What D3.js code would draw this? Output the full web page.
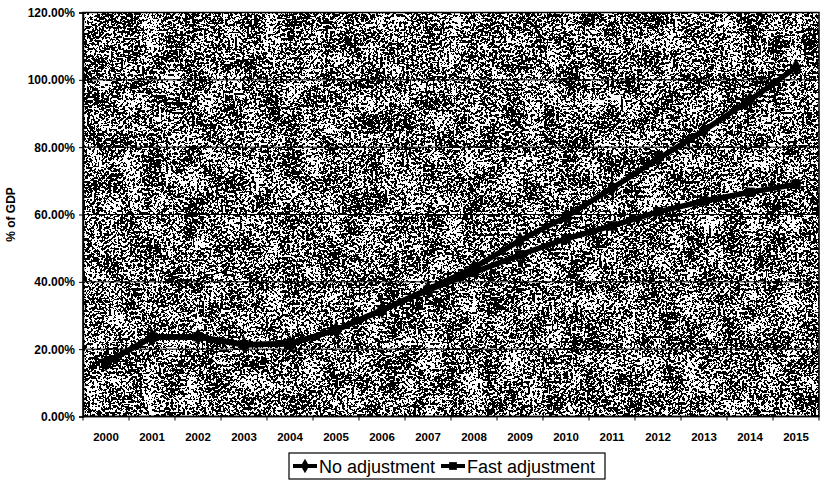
<!DOCTYPE html>
<html>
<head>
<meta charset="utf-8">
<script src="https://cdn.jsdelivr.net/npm/d3@7"></script>
<style>
    body { margin: 0; background: #fff; }
    svg text { font-family: "Liberation Sans", Arial, sans-serif; fill: #000; }
</style>
</head>
<body>
<svg id="chart" width="824" height="480"></svg>
<script>
// Chart data
const years = ['2000', '2001', '2002', '2003', '2004', '2005', '2006', '2007',
    '2008', '2009', '2010', '2011', '2012', '2013', '2014', '2015'];
const noAdjustment = [15.9, 23.6, 23.7, 21.3, 21.6, 25.7, 31.6, 37.8,
    44.2, 52.3, 59.3, 67.8, 76.5, 85.0, 94.0, 103.7];
const fastAdjustment = [15.9, 23.6, 23.7, 21.3, 21.6, 25.7, 31.6, 37.5,
    42.8, 48.0, 52.8, 56.6, 60.8, 64.0, 66.6, 69.0];
const yTicks = [0, 20, 40, 60, 80, 100, 120];
const seriesNames = ['No adjustment', 'Fast adjustment'];

const svg = d3.select('#chart');
const margin = { top: 12.5, right: 5, bottom: 63.5, left: 83 };
const width = 824 - margin.left - margin.right;
const height = 480 - margin.top - margin.bottom;

// Halftone-like speckle used as plot background:
// fine grain plus some slow blotchiness, thresholded to black/white
const defs = svg.append('defs');
const filter = defs.append('filter')
    .attr('id', 'speckle')
    .attr('x', 0).attr('y', 0).attr('width', '100%').attr('height', '100%')
    .attr('color-interpolation-filters', 'sRGB');
const opaqueGrey = '1 0 0 0 0  1 0 0 0 0  1 0 0 0 0  0 0 0 0 1';
filter.append('feTurbulence')
    .attr('type', 'fractalNoise').attr('baseFrequency', 0.42)
    .attr('numOctaves', 3).attr('seed', 11).attr('result', 'fineRaw');
filter.append('feColorMatrix')
    .attr('in', 'fineRaw').attr('type', 'matrix').attr('values', opaqueGrey)
    .attr('result', 'fine');
filter.append('feTurbulence')
    .attr('type', 'fractalNoise').attr('baseFrequency', 0.05)
    .attr('numOctaves', 2).attr('seed', 4).attr('result', 'coarseRaw');
filter.append('feColorMatrix')
    .attr('in', 'coarseRaw').attr('type', 'matrix').attr('values', opaqueGrey)
    .attr('result', 'coarse');
filter.append('feComposite')
    .attr('in', 'fine').attr('in2', 'coarse')
    .attr('operator', 'arithmetic')
    .attr('k1', 0).attr('k2', 1).attr('k3', 0.35).attr('k4', -0.19)
    .attr('result', 'mix');
const ct = filter.append('feComponentTransfer').attr('in', 'mix');
['feFuncR', 'feFuncG', 'feFuncB'].forEach((f) => {
    ct.append(f).attr('type', 'discrete').attr('tableValues', '0 1');
});
ct.append('feFuncA').attr('type', 'linear').attr('slope', 0).attr('intercept', 1);

const g = svg.append('g').attr('transform', `translate(${margin.left},${margin.top})`);

const x = d3.scaleBand().domain(years).range([0, width]);
const y = d3.scaleLinear().domain([0, 120]).range([height, 0]);

// Background
g.append('rect')
    .attr('width', width).attr('height', height)
    .attr('fill', '#fff')
    .attr('filter', 'url(#speckle)');

// Gridlines
g.selectAll('.grid').data(yTicks).enter().append('line')
    .attr('x1', 0).attr('x2', width)
    .attr('y1', (d) => y(d)).attr('y2', (d) => y(d))
    .attr('stroke', '#000').attr('stroke-width', 1);

// Plot border
g.append('rect')
    .attr('width', width).attr('height', height)
    .attr('fill', 'none').attr('stroke', '#000').attr('stroke-width', 1.5);

// Y axis
const yAxis = d3.axisLeft(y).tickValues(yTicks)
    .tickFormat((d) => d.toFixed(2) + '%').tickSize(4).tickPadding(4);
g.append('g').call(yAxis)
    .call((a) => a.select('.domain').attr('stroke-width', 1.5))
    .selectAll('text').attr('font-size', 12).attr('font-weight', 'bold');

// X axis: ticks at band edges, labels at centers
const xAxis = g.append('g').attr('transform', `translate(0,${height})`);
xAxis.append('line').attr('x1', 0).attr('x2', width).attr('stroke', '#000').attr('stroke-width', 1.5);
xAxis.selectAll('.tick').data(d3.range(years.length + 1)).enter().append('line')
    .attr('x1', (i) => i * x.bandwidth()).attr('x2', (i) => i * x.bandwidth())
    .attr('y1', 0).attr('y2', 4).attr('stroke', '#000');
xAxis.selectAll('.lbl').data(years).enter().append('text')
    .attr('x', (d) => x(d) + x.bandwidth() / 2)
    .attr('y', 24)
    .attr('text-anchor', 'middle')
    .attr('font-size', 11.5).attr('font-weight', 'bold')
    .text((d) => d);

// Y axis title
svg.append('text')
    .attr('transform', `translate(15,${margin.top + height / 2}) rotate(-90)`)
    .attr('text-anchor', 'middle')
    .attr('font-size', 12).attr('font-weight', 'bold')
    .text('% of GDP');

// Series
const line = d3.line()
    .x((d, i) => x(years[i]) + x.bandwidth() / 2)
    .y((d) => y(d));
const series = [noAdjustment, fastAdjustment];
const symbols = [d3.symbolDiamond, d3.symbolSquare];

series.forEach((vals, s) => {
    g.append('path').datum(vals)
        .attr('d', line)
        .attr('fill', 'none').attr('stroke', '#000')
        .attr('stroke-width', 5.5).attr('stroke-linejoin', 'round').attr('stroke-linecap', 'round');
    g.selectAll(`.m${s}`).data(vals).enter().append('path')
        .attr('transform', (d, i) => `translate(${x(years[i]) + x.bandwidth() / 2},${y(d)})`)
        .attr('d', d3.symbol().type(symbols[s]).size(90))
        .attr('fill', '#000');
});

// Legend
const legend = svg.append('g').attr('transform', 'translate(289,453)');
legend.append('rect')
    .attr('width', 316).attr('height', 26)
    .attr('fill', '#fff').attr('stroke', '#000').attr('stroke-width', 1.2);
const itemX = [4, 152];
seriesNames.forEach((name, s) => {
    const it = legend.append('g').attr('transform', `translate(${itemX[s]},13)`);
    it.append('line').attr('x1', 0).attr('x2', 24)
        .attr('stroke', '#000').attr('stroke-width', 4);
    it.append('path').attr('transform', 'translate(12,0)')
        .attr('d', d3.symbol().type(symbols[s]).size(60)).attr('fill', '#000');
    it.append('text').attr('x', 26).attr('y', 6.5)
        .attr('font-size', 18).text(name);
});
</script>
</body>
</html>
